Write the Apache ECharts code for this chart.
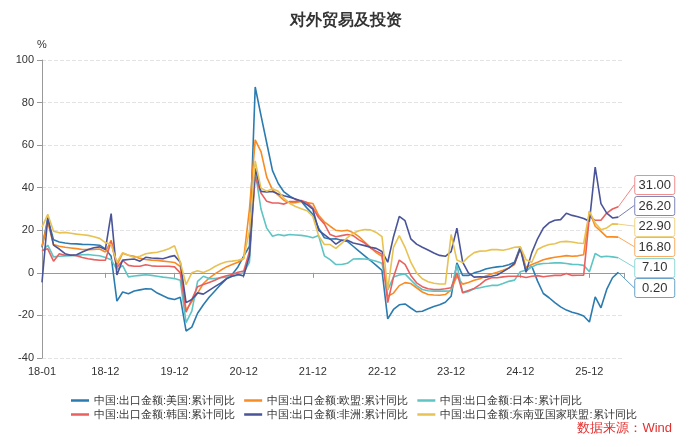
<!DOCTYPE html>
<html>
<head>
<meta charset="utf-8">
<script src="https://cdn.jsdelivr.net/npm/echarts@6/dist/echarts.min.js"></script>
<style>
  html, body { margin: 0; padding: 0; background: #fff; }
  #main { width: 692px; height: 447px; }
</style>
</head>
<body>
<div id="main"></div>
<script>
// 月份 2018-01 .. 2026-06（最后一个月暂无数据）
var startYear = 2018, endYear = 2026, endMonth = 6;
var months = [];
for (var y = startYear; y <= endYear; y++) {
  for (var m = 1; m <= 12; m++) {
    if (y === endYear && m > endMonth) break;
    months.push(String(y).slice(2) + '-' + (m < 10 ? '0' + m : m));
  }
}

var seriesNames = [
  '中国:出口金额:美国:累计同比',
  '中国:出口金额:欧盟:累计同比',
  '中国:出口金额:日本:累计同比',
  '中国:出口金额:韩国:累计同比',
  '中国:出口金额:非洲:累计同比',
  '中国:出口金额:东南亚国家联盟:累计同比'
];
var colors = ['#2b7bb0', '#f98b23', '#5ec4c4', '#e9605f', '#4a5499', '#e8c252'];

var usData = [
  12, 25.5, 15.5, 14.5, 14, 13.7, 13.6, 13.4, 13.3, 13.2, 13, 11.3,
  7.8, -13.3, -9, -9.8, -8.5, -8, -7.5, -7.6, -9.5, -10.8, -12, -12.5,
  -11.5, -27.3, -25.5, -19, -15, -11.5, -8.5, -5.5, -2.8, -0.8, 2.8, 7.9,
  12.5, 87.3, 74, 61, 48, 42, 38, 36, 34.5, 33.5, 30.4, 27.5,
  21, 16.5, 15.9, 16, 15.3, 14.8, 12.5, 10.2, 8, 5.8, 3.5, 1.2,
  -21.6, -17.2, -15, -14.6, -16.5, -18.3, -18, -16.9, -15.8, -15, -13.8, -11,
  4.7, -1.2, -1.2, 0, 0.8, 1.8, 2.4, 2.8, 3.1, 3.8, 5, 12.2,
  0.8, 3.1, -3.9, -9.7, -11.7, -14, -16, -17.5, -18.5, -19.2, -20.3, -23.1,
  -11.3, -16.4, -7.8, -2.3, 0.2
];
var euData = [
  12.5, 24, 13.3, 12.5, 12, 11.7, 11.4, 11, 10.9, 11, 11.2, 9.8,
  15.3, 3.5, 9.2, 8.3, 7.8, 6.8, 6.3, 6, 5.8, 5.5, 5.2, 4.9,
  3, -17.5, -13.5, -9.5, -5, -2.5, -0.5, 1.2, 2.8, 3.9, 5, 6.7,
  30, 62.5, 57, 45, 39, 36.5, 34, 33, 33, 33.5, 33, 32.6,
  27, 24, 21.9, 20, 19.7, 20, 18.9, 17, 14.5, 12, 9.5, 7.8,
  -11, -9.5, -6, -4.6, -5, -7, -9, -10.2, -10.4, -10.5, -10.2, -8,
  -1.6, -5.3, -4.5, -3.5, -2.8, -1.5, -0.5, 0.3, 1.2, 2.3, 3.9, 11.7,
  2.5, 3.9, 5, 6.2, 6.8, 7.3, 7.7, 8.1, 7.8, 8, 8.5, 28.9,
  21.9, 19.5, 16.9, 16.9, 16.8
];
var jpData = [
  10, 13, 7.5, 7.8, 8, 8.1, 8.2, 8.5, 8.6, 8.3, 8, 7.2,
  6.2, 1.6, 3.4, -1.9, -1.5, -1.2, -0.9, -1.2, -1.6, -2, -2.3, -2.7,
  -3.5, -23.4, -18, -4, -1.6, -2.7, -2.7, -2.3, -2, -1.6, -1.1, 0,
  5, 47.6, 30, 21, 17.2, 18, 17.5, 18, 17.8, 17.6, 17.2, 16.5,
  17.5, 8, 6.2, 3.9, 3.9, 4.5, 6.5, 6.6, 6.5, 6.2, 5.5, 4.5,
  -8, -2, -1, -0.5, -3.3, -6, -7.8, -8.4, -8.6, -8.6, -8.6, -8.4,
  3.9, -9.4, -8.8, -7.5, -7, -6.4, -5.9, -5.9, -5, -4, -3.4, 0.5,
  1.2, 2.8, 4, 4.4, 4.5, 4.7, 4.7, 4.4, 4, 3.9, 3.5, 0.5,
  9.1, 7.5, 7.8, 7.5, 7.1
];
var krData = [
  10.5, 11.3, 5.5, 9, 8.3, 8.4, 8, 7.2, 6.6, 6.2, 5.9, 5.9,
  14.8, 2.5, 5.8, 3.5, 3.1, 3.1, 3.8, 3.3, 3.1, 3.1, 3.1, 2.8,
  0, -18.5, -12.5, -6.5, -5.5, -4.5, -3.5, -2.2, -1.4, -0.8, 0.3, 0.8,
  10, 45, 37.5, 33.6, 32.8, 32.8, 32.3, 33.5, 33.6, 34, 33, 30.5,
  26, 23, 18, 17, 17.5, 18, 17.5, 15.5, 14, 11.7, 10.2, 8.8,
  -14, -2, 6, 4, -1.2, -4.7, -6.5, -7.5, -7.8, -7.8, -7.5, -7,
  0, -9.2, -8.3, -7.3, -5.5, -3.3, -2.3, -2.3, -1.9, -1.6, -1.6, -1.6,
  -2.2, -1.6, -1.3, -1.8, -1.5, -1.2, -1.2, -0.3, -1.2, -1.1, -1.1, 26.6,
  24.7, 24.7, 28.1, 30, 31
];
var afData = [
  -4.5, 26, 13, 11.2, 9, 8.3, 8.5, 9.8, 11, 11.8, 12.2, 11,
  27.8, -1, 6, 6.3, 6.5, 5.5, 7.3, 7, 6.8, 6.6, 7.5, 8.1,
  5, -14, -12.5, -9.4, -10, -8.2, -6.5, -4.8, -2.8, -1.6, -0.8, -1.5,
  8, 49, 38.3, 38, 38.2, 37, 36.2, 35.5, 34.7, 33.7, 32, 29.9,
  20, 18, 15.9, 13.5, 15.3, 15.3, 14, 13.4, 12.8, 12, 11.5, 10,
  5, 17, 26.5, 24.5, 16, 13.5, 12, 10.7, 9.3, 8.2, 7.8, 10,
  21, 5, 0, -2, -1.8, -2, -1.6, -1, 0.6, 2.2, 4.4, 11.5,
  0.3, 9.5, 16, 21, 23.5, 24.7, 25, 28, 27, 26.4, 25.5, 24.2,
  49.7, 32.5, 28.1, 25.8, 26.2
];
var aseanData = [
  21.5, 27.5, 19.5, 18.8, 19, 18.6, 18.2, 17.9, 17.6, 17, 16.2, 14.2,
  13.3, 5, 9.5, 8.3, 7.2, 7.8, 9, 9.4, 9.7, 10.4, 11.3, 12.7,
  5, -5.5, 0, 1, 0.2, 1.3, 3, 4.3, 5.2, 5.5, 5.9, 6.7,
  20, 52.6, 39.8, 38.4, 39.5, 38.3, 35, 32.6, 31.2, 30.1, 29.2, 26.5,
  17.5, 13.3, 13.3, 11.5, 13.8, 16.6, 18.6, 19.8, 20.4, 20.2, 19, 17,
  -7.8, 12, 17.5, 12, 5, 0, -2.8, -4.2, -4.9, -5.2, -5.2, 18,
  6, 4.8, 7.5, 9.5, 10.2, 10.3, 10.9, 10.9, 10.6, 11.2, 12, 12.2,
  6.2, 5, 11, 12.4, 13.3, 13.7, 14.6, 14.8, 14.5, 14, 13.8, 28.9,
  23.4, 20.3, 21.1, 23, 22.9
];
var allData = [usData, euData, jpData, krData, afData, aseanData];

var yTicks = { min: -40, max: 100, interval: 20 };

function showLabel(index, value) {
  return index === 0 || value.slice(3) === '12';
}
function showTick(index, value) {
  return showLabel(index, value) || index === months.length - 1;
}

// 末端数值标签：取每条线的最后一个值
var lastIndex = usData.length - 1;
var endValues = allData.map(function (d) { return d[d.length - 1]; });

var chart = echarts.init(document.getElementById('main'));

var series = seriesNames.map(function (name, i) {
  return {
    name: name,
    type: 'line',
    data: allData[i],
    symbol: 'none',
    color: colors[i],
    lineStyle: { width: 1.6 }
  };
});

// 末端标签和引导线（位置由坐标轴换算，再向下错开避免重叠）
series.push({
  type: 'custom',
  coordinateSystem: 'cartesian2d',
  clip: false,
  silent: true,
  z: 5,
  data: endValues.map(function (v, i) { return [lastIndex, v, i]; }),
  renderItem: function (params, api) {
    var boxH = 20.6, lift = -22, gap = 16, boxW = 40;
    var pts = endValues.map(function (v) { return api.coord([lastIndex, v]); });
    var order = pts.map(function (p, k) { return k; })
      .sort(function (a, b) { return pts[a][1] - pts[b][1]; });
    var ys = [], prev = -Infinity;
    order.forEach(function (k) {
      var yy = Math.max(pts[k][1] + lift, prev + boxH);
      ys[k] = yy;
      prev = yy;
    });
    var i = params.dataIndex;
    var p = pts[i];
    var bx = p[0] + gap;
    return {
      type: 'group',
      children: [
        {
          type: 'line',
          shape: { x1: p[0], y1: p[1], x2: bx, y2: ys[i] },
          style: { stroke: colors[i], lineWidth: 1, opacity: 0.75 }
        },
        {
          type: 'rect',
          shape: { x: bx + 0.5, y: Math.round(ys[i] - 9.5) + 0.5, width: boxW, height: 19, r: 2 },
          style: { fill: '#fff', stroke: colors[i], lineWidth: 1, strokeOpacity: 0.7 }
        },
        {
          type: 'text',
          style: {
            text: endValues[i].toFixed(2),
            x: bx + 0.5 + boxW / 2, y: ys[i] + 0.5,
            align: 'center', verticalAlign: 'middle',
            fill: '#333', font: '13px sans-serif'
          }
        }
      ]
    };
  }
});

var legendCommon = {
  icon: 'rect',
  itemWidth: 18, itemHeight: 2.5, itemGap: 9,
  textStyle: { fontSize: 11, color: '#333' }
};

chart.setOption({
  animation: false,
  backgroundColor: '#fff',
  title: {
    text: '对外贸易及投资',
    left: 'center',
    top: 8,
    textStyle: { fontSize: 16, fontWeight: 'bold', color: '#333' }
  },
  legend: [
    Object.assign({ data: seriesNames.slice(0, 3), left: 66, top: 390 }, legendCommon),
    Object.assign({ data: seriesNames.slice(3), left: 66, top: 404 }, legendCommon)
  ],
  grid: { left: 42, right: 68, top: 60, bottom: 89, containLabel: false },
  xAxis: {
    type: 'category',
    data: months,
    boundaryGap: false,
    axisLine: { lineStyle: { color: '#999' } },
    axisTick: { interval: showTick, lineStyle: { color: '#999' } },
    axisLabel: { interval: showLabel, color: '#333', fontSize: 11, margin: 8 },
    splitLine: { show: false }
  },
  yAxis: {
    type: 'value',
    name: '%',
    nameGap: 10,
    nameTextStyle: { color: '#333', fontSize: 11, align: 'center' },
    min: yTicks.min, max: yTicks.max, interval: yTicks.interval,
    axisLine: { show: true, lineStyle: { color: '#999' } },
    axisTick: { show: true, lineStyle: { color: '#999' } },
    axisLabel: { color: '#333', fontSize: 11 },
    splitLine: { lineStyle: { color: '#e3e3e3', type: 'dashed' } }
  },
  graphic: [{
    type: 'text',
    right: 20,
    top: 422,
    style: { text: '数据来源：Wind', fill: '#e3302f', font: '13px sans-serif' }
  }],
  series: series
});
</script>
</body>
</html>
